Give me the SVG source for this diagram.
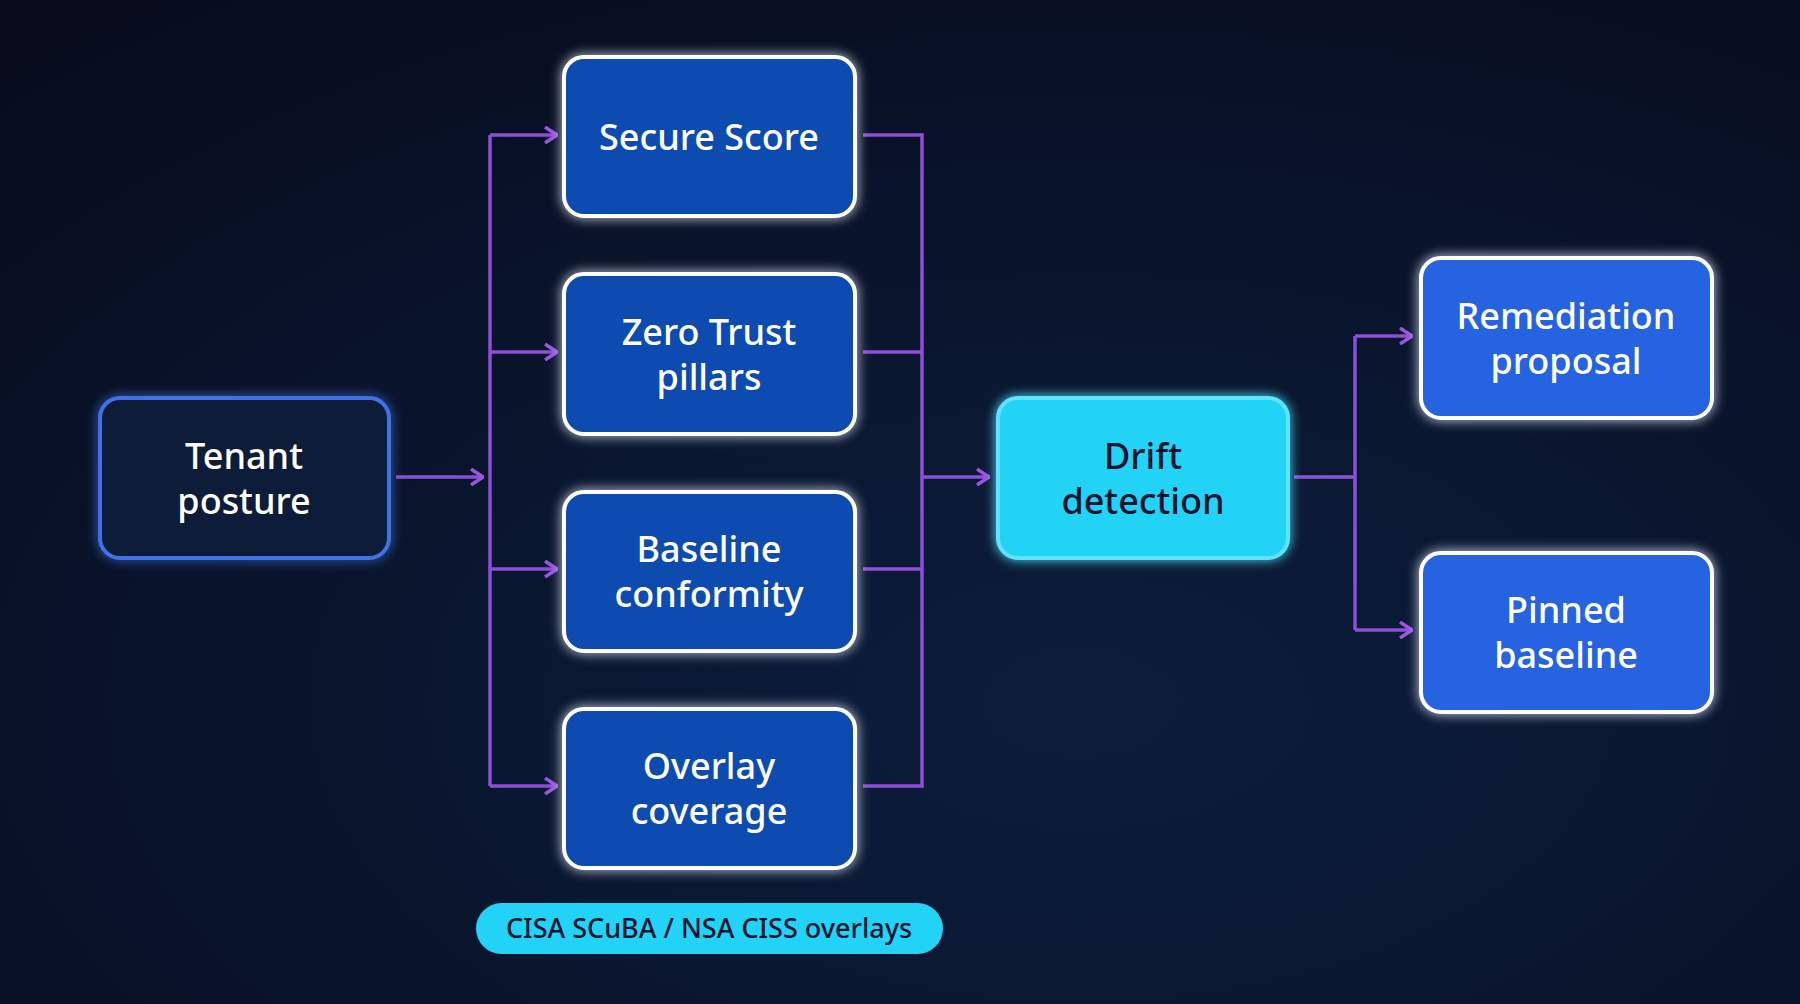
<svg xmlns="http://www.w3.org/2000/svg" width="1800" height="1004" viewBox="0 0 1800 1004">
<defs>
<radialGradient id="bg" cx="0.6" cy="0.7" r="0.9"><stop offset="0" stop-color="#0c1e3c"/><stop offset="1" stop-color="#070b1c"/></radialGradient>
<filter id="glow" x="-20%" y="-20%" width="140%" height="140%"><feGaussianBlur stdDeviation="6" result="b"/><feMerge><feMergeNode in="b"/><feMergeNode in="SourceGraphic"/></feMerge></filter>
<marker id="ar" viewBox="0 0 14 18" refX="13" refY="9" markerWidth="14" markerHeight="18" markerUnits="userSpaceOnUse" orient="auto"><path d="M1,1 L13,9 L1,17" fill="none" stroke="#9a55e0" stroke-width="3.5"/></marker>
<style>
.t{font-family:"Noto Sans","Open Sans",sans-serif;font-weight:500;font-size:36px;fill:#fff;text-anchor:middle}
.c{fill:none;stroke:#8e4fd8;stroke-width:3.5}
.blue{fill:#0a4bb0;stroke:#fff;stroke-width:4}
.light{fill:#2563e0;stroke:#fff;stroke-width:4}
</style>
</defs>
<rect width="1800" height="1004" fill="url(#bg)"/>
<g id="connectors">
<path class="c" d="M396,477 H483" marker-end="url(#ar)"/>
<path class="c" d="M490,135 V786"/>
<path class="c" d="M490,135 H557" marker-end="url(#ar)"/>
<path class="c" d="M490,352 H557" marker-end="url(#ar)"/>
<path class="c" d="M490,569 H557" marker-end="url(#ar)"/>
<path class="c" d="M490,786 H557" marker-end="url(#ar)"/>
<path class="c" d="M863,135 H922 V786 H863 M863,352 H922 M863,569 H922"/>
<path class="c" d="M922,477 H989" marker-end="url(#ar)"/>
<path class="c" d="M1294,477 H1355 M1355,336 V630"/>
<path class="c" d="M1355,336 H1412" marker-end="url(#ar)"/>
<path class="c" d="M1355,630 H1412" marker-end="url(#ar)"/>
</g>
<g id="tenant"><rect x="100" y="398" width="289" height="160" rx="20" fill="#0d1a38" stroke="#3f72e6" stroke-width="4" filter="url(#glow)"/><text class="t" x="244" y="469">Tenant</text><text class="t" x="244" y="514">posture</text></g>
<g id="secure"><rect class="blue" x="564" y="57" width="291" height="159" rx="20" filter="url(#glow)"/><text class="t" x="709" y="150">Secure Score</text></g>
<g id="zerotrust"><rect class="blue" x="564" y="274" width="291" height="160" rx="20" filter="url(#glow)"/><text class="t" x="709" y="345">Zero Trust</text><text class="t" x="709" y="390">pillars</text></g>
<g id="baseline"><rect class="blue" x="564" y="492" width="291" height="159" rx="20" filter="url(#glow)"/><text class="t" x="709" y="562">Baseline</text><text class="t" x="709" y="607">conformity</text></g>
<g id="overlay"><rect class="blue" x="564" y="709" width="291" height="159" rx="20" filter="url(#glow)"/><text class="t" x="709" y="779">Overlay</text><text class="t" x="709" y="824">coverage</text></g>
<g id="drift"><rect x="998" y="398" width="290" height="160" rx="20" fill="#22d3f5" stroke="#5fe3ff" stroke-width="4" filter="url(#glow)"/><text class="t" x="1143" y="469" style="fill:#0a1430">Drift</text><text class="t" x="1143" y="514" style="fill:#0a1430">detection</text></g>
<g id="remediation"><rect class="light" x="1421" y="258" width="291" height="160" rx="20" filter="url(#glow)"/><text class="t" x="1566" y="329">Remediation</text><text class="t" x="1566" y="374">proposal</text></g>
<g id="pinned"><rect class="light" x="1421" y="553" width="291" height="159" rx="20" filter="url(#glow)"/><text class="t" x="1566" y="623">Pinned</text><text class="t" x="1566" y="668">baseline</text></g>
<g id="pill"><rect x="476" y="903" width="467" height="51" rx="25.5" fill="#22d3f5"/><text x="709" y="938" style="font-family:'Noto Sans','Open Sans',sans-serif;font-weight:500;font-size:27px;fill:#0a1430;text-anchor:middle">CISA SCuBA / NSA CISS overlays</text></g>
</svg>
